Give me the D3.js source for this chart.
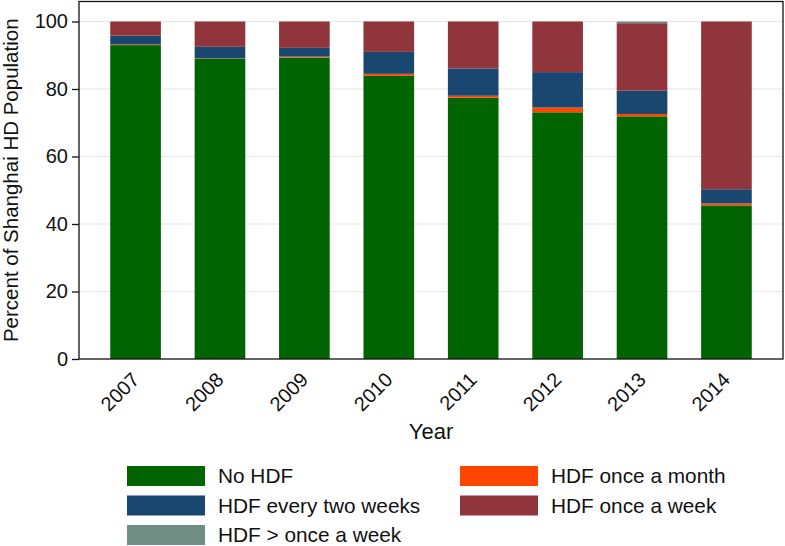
<!DOCTYPE html>
<html>
<head>
<meta charset="utf-8">
<script src="https://cdn.jsdelivr.net/npm/d3@7"></script>
<style>
  html, body { margin: 0; padding: 0; background: #fff; }
  svg text { font-family: "Liberation Sans", Arial, Helvetica, sans-serif; fill: #111; }
</style>
</head>
<body>
<div id="chart"></div>
<script>
// years on the x axis
const years = ['2007', '2008', '2009', '2010', '2011', '2012', '2013', '2014'];

// stacked series, bottom to top (percent of population)
const noHdf        = [93.0, 89.0, 89.3, 83.9, 77.4, 73.1, 71.9, 45.5];
const onceMonth    = [0.2, 0.1, 0.3, 0.6, 0.6, 1.4, 0.7, 0.6];
const everyTwoWeek = [2.6, 3.4, 2.6, 6.5, 8.1, 10.5, 6.9, 4.2];
const onceWeek     = [4.2, 7.5, 7.8, 9.0, 13.9, 15.0, 20.0, 49.7];
const moreThanWeek = [0, 0, 0, 0, 0, 0, 0.5, 0];

const seriesNames = ['No HDF', 'HDF once a month', 'HDF every two weeks', 'HDF once a week', 'HDF > once a week'];
const seriesColors = ['#006400', '#ff4500', '#1a476f', '#90353b', '#6e8e84'];
const yTicks = [0, 20, 40, 60, 80, 100];

const W = 785, H = 546;
const plot = { left: 79, right: 783, top: 1.5, bottom: 359 };

const svg = d3.select('#chart').append('svg')
  .attr('width', W)
  .attr('height', H);

const table = years.map((yr, i) => ({
  year: yr,
  'No HDF': noHdf[i],
  'HDF once a month': onceMonth[i],
  'HDF every two weeks': everyTwoWeek[i],
  'HDF once a week': onceWeek[i],
  'HDF > once a week': moreThanWeek[i]
}));

const x = d3.scaleBand()
  .domain(years)
  .range([plot.left, plot.right])
  .paddingInner(0.4)
  .paddingOuter(0.37);

const y = d3.scaleLinear()
  .domain([0, 100])
  .range([plot.bottom, 21.5]);

const color = d3.scaleOrdinal().domain(seriesNames).range(seriesColors);

// gridlines
svg.append('g')
  .selectAll('line')
  .data(yTicks.filter(t => t > 0))
  .enter().append('line')
  .attr('x1', plot.left)
  .attr('x2', plot.right)
  .attr('y1', d => y(d))
  .attr('y2', d => y(d))
  .style('stroke', '#e6e6e6')
  .style('stroke-width', 1.2);

// bars
const stacked = d3.stack().keys(seriesNames)(table);
svg.append('g')
  .selectAll('g')
  .data(stacked)
  .enter().append('g')
  .style('fill', d => color(d.key))
  .selectAll('rect')
  .data(d => d)
  .enter().append('rect')
  .attr('x', d => x(d.data.year))
  .attr('width', x.bandwidth())
  .attr('y', d => y(d[1]))
  .attr('height', d => y(d[0]) - y(d[1]));

// frame around plot region
svg.append('rect')
  .attr('x', plot.left)
  .attr('y', plot.top)
  .attr('width', plot.right - plot.left)
  .attr('height', plot.bottom - plot.top)
  .style('fill', 'none')
  .style('stroke', '#111')
  .style('stroke-width', 1.3);

// y axis
const yAxis = svg.append('g')
  .attr('transform', `translate(${plot.left},0)`)
  .call(d3.axisLeft(y).tickValues(yTicks).tickSize(7).tickPadding(4));
yAxis.select('.domain').remove();
yAxis.selectAll('line').style('stroke', '#111').style('stroke-width', 1.3);
yAxis.selectAll('text')
  .style('font-size', '20px')
  .style('font-family', '"Liberation Sans", Arial, sans-serif')
  .attr('fill', '#111');

// x tick labels, rotated
svg.append('g')
  .selectAll('text')
  .data(years)
  .enter().append('text')
  .attr('transform', d => `translate(${x(d) + x.bandwidth() / 2 + 5},381) rotate(-45)`)
  .style('text-anchor', 'end')
  .style('font-size', '20px')
  .text(d => d);

// axis titles
svg.append('text')
  .attr('x', (plot.left + plot.right) / 2)
  .attr('y', 439)
  .style('text-anchor', 'middle')
  .style('font-size', '22px')
  .text('Year');

svg.append('text')
  .attr('transform', `translate(18,${(plot.top + plot.bottom) / 2}) rotate(-90)`)
  .style('text-anchor', 'middle')
  .style('font-size', '20.5px')
  .text('Percent of Shanghai HD Population');

// legend, two columns filled row by row
const legend = svg.append('g')
  .selectAll('g')
  .data(seriesNames)
  .enter().append('g')
  .attr('transform', (d, i) => `translate(${i % 2 === 0 ? 127 : 460},${466 + Math.floor(i / 2) * 29.5})`);

legend.append('rect')
  .attr('width', 78)
  .attr('height', 20)
  .style('fill', d => color(d));

legend.append('text')
  .attr('x', 91)
  .attr('y', 17)
  .style('font-size', '20.8px')
  .text(d => d);
</script>
</body>
</html>
